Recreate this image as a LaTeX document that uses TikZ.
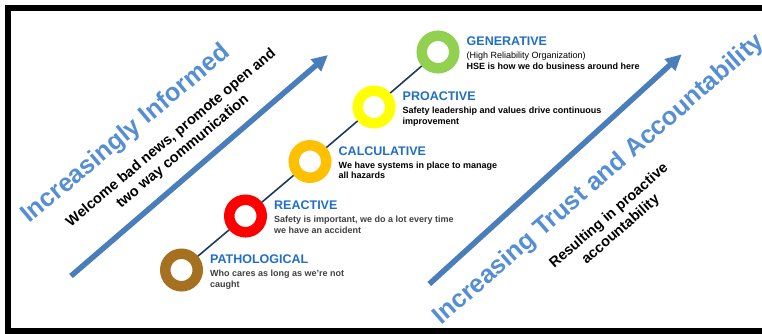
\documentclass[tikz,border=0pt]{standalone}
\usepackage{fontspec}
\setmainfont{Liberation Sans}
\usetikzlibrary{positioning,arrows.meta}

\definecolor{headblue}{HTML}{1F6FC5}
\definecolor{bigblue}{HTML}{558ED5}
\definecolor{arrowblue}{HTML}{4A7EBB}
\definecolor{linknavy}{HTML}{1F3A60}
\definecolor{ringbrown}{HTML}{A5701F}
\definecolor{ringred}{HTML}{FF0000}
\definecolor{ringorange}{HTML}{FFC000}
\definecolor{ringyellow}{HTML}{FFFF00}
\definecolor{ringgreen}{HTML}{92D050}
\definecolor{descgray}{HTML}{404040}

\begin{document}
\begin{tikzpicture}[x=1pt,y=1pt]
	\tikzset{
		ring/.style={circle,fill=white,line width=10.5pt,minimum size=32.5pt,inner sep=0pt},
		level/.style={anchor=base west,inner sep=0pt,text=headblue,font=\fontsize{12.5}{15}\selectfont\bfseries},
		desc/.style={anchor=north west,inner sep=0pt,align=left,font=\fontsize{9}{10.5}\selectfont\bfseries},
		bigtext/.style={text=bigblue,font=\fontsize{25.3}{30}\selectfont\bfseries},
		note/.style={align=center,font=\fontsize{14.5}{18}\selectfont\bfseries},
		trend/.style={arrowblue,line width=5.5pt,-{Triangle[length=16pt,width=15pt]}},
		link/.style={linknavy,line width=1.6pt}
	}
	\useasboundingbox (0,0) rectangle (762,333);
	% frame, open on the right
	\draw[line width=5.5pt] (762,325) -- (8,325) -- (8,2) -- (762,2);

	% the two trend arrows
	\coordinate (inf0) at (71,57);
	\coordinate (inf1) at (328,278);
	\coordinate (acc0) at (429.3,49);
	\coordinate (acc1) at (681.7,278.7);
	\draw[trend] (inf0) -- (inf1);
	\draw[trend] (acc0) -- (acc1);

	% culture levels
	\node[ring,draw=ringbrown] (p1) at (181.5,63) {};
	\node[ring,draw=ringred] (p2) at (245.5,117) {};
	\node[ring,draw=ringorange] (p3) at (310,171.5) {};
	\node[ring,draw=ringyellow] (p4) at (374,226) {};
	\node[ring,draw=ringgreen] (p5) at (438,281) {};
	\path[link]
		(p1) edge (p2)
		(p2) edge (p3)
		(p3) edge (p4)
		(p4) edge (p5);

	\node[level] (t1) at ([shift={(28.5,6.5)}]p1.center) {PATHOLOGICAL};
	\node[level] (t2) at ([shift={(28.5,6.5)}]p2.center) {REACTIVE};
	\node[level] (t3) at ([shift={(28.5,6.5)}]p3.center) {CALCULATIVE};
	\node[level] (t4) at ([shift={(28.5,6.5)}]p4.center) {PROACTIVE};
	\node[level] (t5) at ([shift={(28.5,6.5)}]p5.center) {GENERATIVE};

	\node[below=6pt of t1.south west,desc,text=descgray] (d1) {Who cares as long as we're not\\caught};
	\node[below=6pt of t2.south west,desc,text=descgray] (d2) {Safety is important, we do a lot every time\\we have an accident};
	\node[below=6pt of t3.south west,desc] (d3) {We have systems in place to manage\\all hazards};
	\node[below=6pt of t4.south west,desc] (d4) {Safety leadership and values drive continuous\\improvement};
	\node[below=6pt of t5.south west,desc] (d5) {{\mdseries (High Reliability Organization)}\\HSE is how we do business around here};

	% slanted captions
	\node[bigtext,rotate=40] (informed) at (126,198.5) {Increasingly Informed};
	\node[note,rotate=40] (welcome) at (177,188) {Welcome bad news, promote open and\\two way communication};
	\node[bigtext,rotate=41] (trust) at (599,153) {Increasing Trust and Accountability};
	\node[note,rotate=41] (result) at (615,110) {Resulting in proactive\\accountability};
\end{tikzpicture}
\end{document}
